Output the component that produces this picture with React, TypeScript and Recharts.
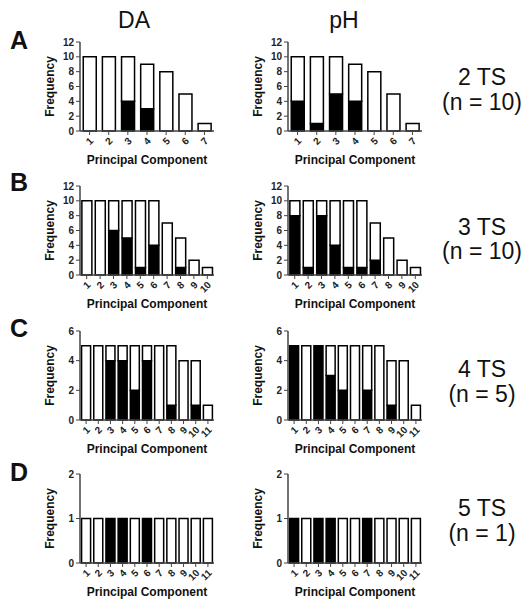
import React from "react";
import { BarChart, Bar, XAxis, YAxis } from "recharts";

// ---- Data ----
const pcA = ["1", "2", "3", "4", "5", "6", "7"];
const pcB = ["1", "2", "3", "4", "5", "6", "7", "8", "9", "10"];
const pcCD = ["1", "2", "3", "4", "5", "6", "7", "8", "9", "10", "11"];

const totalA = [10, 10, 10, 9, 8, 5, 1];
const daBlackA = [0, 0, 4, 3, 0, 0, 0];
const phBlackA = [4, 1, 5, 4, 0, 0, 0];

const totalB = [10, 10, 10, 10, 10, 10, 7, 5, 2, 1];
const daBlackB = [0, 0, 6, 5, 1, 4, 0, 1, 0, 0];
const phBlackB = [8, 1, 8, 4, 1, 1, 2, 0, 0, 0];

const totalC = [5, 5, 5, 5, 5, 5, 5, 5, 4, 4, 1];
const daBlackC = [0, 0, 4, 4, 2, 4, 0, 1, 0, 1, 0];
const phBlackC = [5, 0, 5, 3, 2, 0, 2, 0, 1, 0, 0];

const totalD = [1, 1, 1, 1, 1, 1, 1, 1, 1, 1, 1];
const daBlackD = [0, 0, 1, 1, 0, 1, 0, 0, 0, 0, 0];
const phBlackD = [1, 0, 1, 1, 0, 0, 1, 0, 0, 0, 0];

const ticksA = [0, 2, 4, 6, 8, 10, 12];
const ticksC = [0, 2, 4, 6];
const ticksD = [0, 1, 2];

const rowLetters = ["A", "B", "C", "D"];
const rowTitles = ["2 TS", "3 TS", "4 TS", "5 TS"];
const rowNs = ["(n = 10)", "(n = 10)", "(n = 5)", "(n = 1)"];

const FONT = "'Liberation Sans', Arial, Helvetica, sans-serif";
const AXIS = "#444";

const PLOT_W = 134;
const PLOT_H = 89;
const M_TOP = 10;
const Y_W = 60;
const X_H = 33;
const M_BOTTOM = 8;
const CH_W = Y_W + PLOT_W + 8;
const CH_H = M_TOP + PLOT_H + X_H + M_BOTTOM;

const XTick = (props: any) => {
  const { x, y, payload } = props;
  return (
    <g transform={`translate(${x + 2},${y})`}>
      <text
        x={0}
        y={0}
        dy="0.35em"
        textAnchor="end"
        transform="rotate(-45)"
        fontSize={10}
        fontWeight="bold"
        fill="#222"
        fontFamily={FONT}
      >
        {payload.value}
      </text>
    </g>
  );
};

type PanelProps = {
  cats: string[];
  totals: number[];
  black: number[];
  ticks: number[];
  axisX: number;
  plotTop: number;
  gap: string;
};

function Panel({ cats, totals, black, ticks, axisX, plotTop, gap }: PanelProps) {
  const data = cats.map((c, i) => ({
    pc: c,
    black: black[i],
    white: totals[i] - black[i],
  }));
  const yMax = ticks[ticks.length - 1];
  return (
    <div
      style={{
        position: "absolute",
        left: axisX - Y_W,
        top: plotTop - M_TOP,
        width: CH_W,
        height: CH_H,
      }}
    >
      <BarChart
        width={CH_W}
        height={CH_H}
        data={data}
        margin={{ top: M_TOP, right: CH_W - Y_W - PLOT_W, left: 0, bottom: M_BOTTOM }}
        barCategoryGap={gap}
      >
        <XAxis
          dataKey="pc"
          height={X_H}
          interval={0}
          tickSize={4}
          tickMargin={4}
          tick={<XTick />}
          axisLine={{ stroke: AXIS, strokeWidth: 1.5 }}
          tickLine={{ stroke: AXIS, strokeWidth: 1 }}
          label={{
            value: "Principal Component",
            position: "insideBottom",
            offset: 0,
            style: { fontFamily: FONT, fontWeight: "bold", fontSize: 12, fill: "#111" },
          }}
        />
        <YAxis
          width={Y_W}
          domain={[0, yMax]}
          ticks={ticks}
          interval={0}
          tickSize={4}
          tickMargin={2}
          axisLine={{ stroke: AXIS, strokeWidth: 1.5 }}
          tickLine={{ stroke: AXIS, strokeWidth: 1 }}
          tick={{ fontSize: 10, fontWeight: "bold", fill: "#222", fontFamily: FONT }}
          label={{
            value: "Frequency",
            angle: -90,
            position: "insideLeft",
            offset: 30,
            style: {
              textAnchor: "middle",
              fontFamily: FONT,
              fontWeight: "bold",
              fontSize: 12,
              fill: "#111",
            },
          }}
        />
        <Bar
          dataKey="black"
          stackId="s"
          fill="#000"
          stroke="#000"
          strokeWidth={1.5}
          isAnimationActive={false}
        />
        <Bar
          dataKey="white"
          stackId="s"
          fill="#fff"
          stroke="#000"
          strokeWidth={1.5}
          isAnimationActive={false}
        />
      </BarChart>
    </div>
  );
}

const plotTops = [42, 186, 331, 474];
const DA_X = 80;
const PH_X = 288;

const textStyle = (cx: number, cy: number, size: number, bold = false): React.CSSProperties => ({
  position: "absolute",
  left: cx,
  top: cy,
  transform: "translate(-50%, -50%)",
  fontFamily: FONT,
  fontSize: size,
  fontWeight: bold ? "bold" : "normal",
  whiteSpace: "nowrap",
  lineHeight: 1,
  color: "#111",
});

const titleCenters = [
  [77, 102],
  [227, 251],
  [369, 394],
  [508, 533],
];
const letterCenters = [40, 182, 328, 472];

export default function App() {
  const panels = [
    { cats: pcA, totals: totalA, da: daBlackA, ph: phBlackA, ticks: ticksA, gap: "17%" },
    { cats: pcB, totals: totalB, da: daBlackB, ph: phBlackB, ticks: ticksA, gap: "14%" },
    { cats: pcCD, totals: totalC, da: daBlackC, ph: phBlackC, ticks: ticksC, gap: "13%" },
    { cats: pcCD, totals: totalD, da: daBlackD, ph: phBlackD, ticks: ticksD, gap: "13%" },
  ];
  return (
    <div
      style={{
        position: "absolute",
        left: 0,
        top: 0,
        width: 531,
        height: 606,
        background: "#fff",
        overflow: "hidden",
      }}
    >
      <div style={textStyle(134, 20, 23)}>DA</div>
      <div style={textStyle(344, 20, 23)}>pH</div>
      {panels.map((p, i) => (
        <React.Fragment key={i}>
          <div style={textStyle(19, letterCenters[i], 25, true)}>{rowLetters[i]}</div>
          <Panel
            cats={p.cats}
            totals={p.totals}
            black={p.da}
            ticks={p.ticks}
            axisX={DA_X}
            plotTop={plotTops[i]}
            gap={p.gap}
          />
          <Panel
            cats={p.cats}
            totals={p.totals}
            black={p.ph}
            ticks={p.ticks}
            axisX={PH_X}
            plotTop={plotTops[i]}
            gap={p.gap}
          />
          <div style={textStyle(482, titleCenters[i][0], 23)}>{rowTitles[i]}</div>
          <div style={textStyle(482, titleCenters[i][1], 23)}>{rowNs[i]}</div>
        </React.Fragment>
      ))}
    </div>
  );
}
